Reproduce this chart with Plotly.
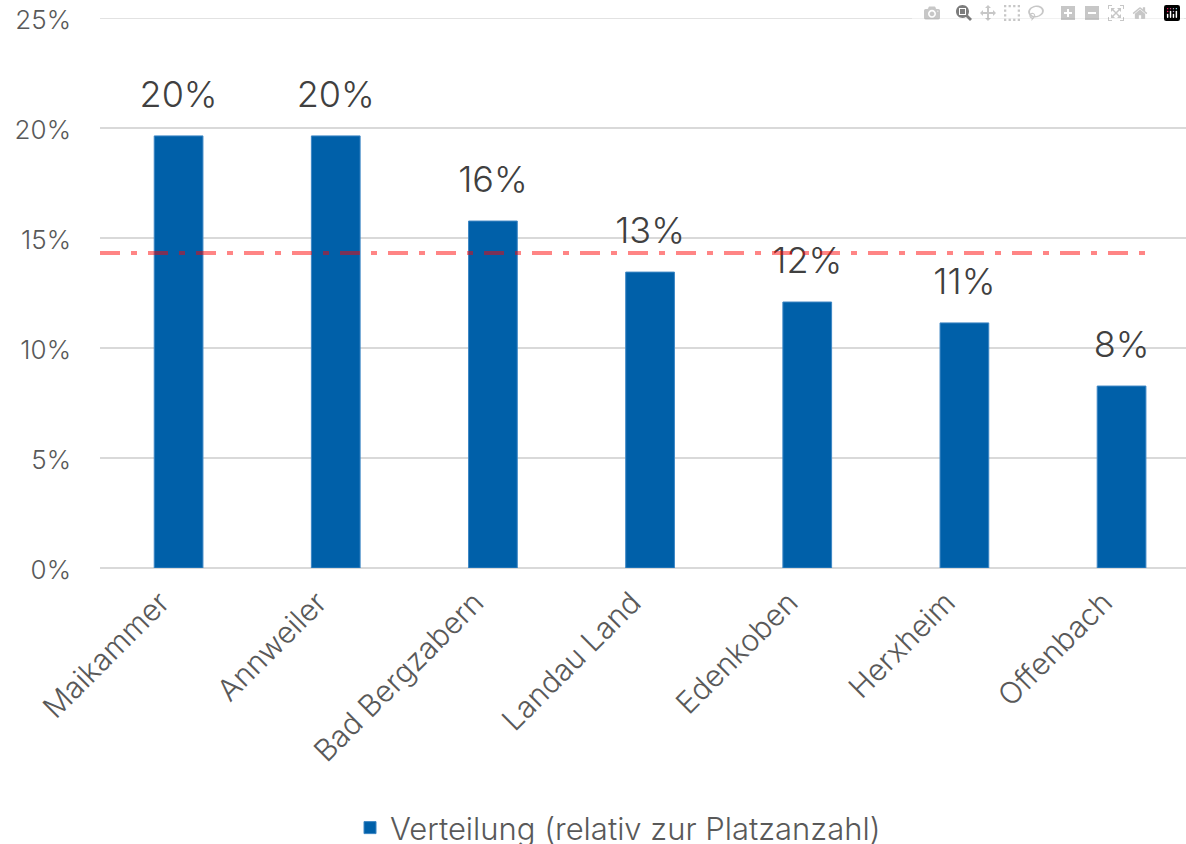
import plotly.graph_objects as go

categories = ["Maikammer", "Annweiler", "Bad Bergzabern", "Landau Land", "Edenkoben", "Herxheim", "Offenbach"]
values = [19.64, 19.64, 15.77, 13.45, 12.09, 11.14, 8.27]
average = [14.32]
series_name = "Verteilung (relativ zur Platzanzahl)"
y_ticks = [0, 5, 10, 15, 20, 25]
y_tick_labels = ["0%", "5%", "10%", "15%", "20%", "25%"]

FONT = "Inter"
GRID = "#D9D9D9"
fig = go.Figure()
fig.add_trace(go.Bar(
    x=categories, y=values, name=series_name,
    marker=dict(color="#0060A9", line=dict(color="#3C86C4", width=1)),
    width=0.31,
))
fig.add_trace(go.Scatter(
    x=categories, y=values, mode="markers+text",
    marker=dict(size=30, opacity=0), showlegend=False, hoverinfo="skip",
    text=[f"{round(v):.0f}%" for v in values],
    textposition="top center",
    textfont=dict(family=FONT, size=36, color="#404040", weight=300),
    cliponaxis=False,
))
# top gridline at the axis maximum (Plotly omits the gridline on the range edge)
fig.add_shape(type="line", xref="paper", yref="y", x0=0, x1=1, y0=y_ticks[-1], y1=y_ticks[-1],
              line=dict(color=GRID, width=1.5), layer="below")
fig.add_shape(type="line", xref="x", yref="y", x0=-0.5, x1=len(categories) - 1 + 0.155,
              y0=average[0], y1=average[0],
              line=dict(color="rgba(255,0,0,0.48)", width=4, dash="20px,11px,6px,11px"),
              layer="above")
fig.update_layout(
    width=1186, height=844,
    margin=dict(l=100, r=0, t=18, b=276),
    paper_bgcolor="white", plot_bgcolor="white",
    font=dict(family=FONT, color="#595959", weight=300),
    showlegend=True,
    legend=dict(orientation="h", x=0.477, xanchor="center", xref="paper",
                yref="container", y=0.019, yanchor="middle",
                font=dict(size=31, color="#595959", family=FONT, weight=300),
                itemwidth=30),
)
fig.update_xaxes(range=[-0.5, 6.41], tickangle=-45, automargin=False,
                 tickfont=dict(size=30, color="#595959", family=FONT, weight=300),
                 ticklabelshift=-18, ticklabelstandoff=10,
                 showgrid=False, showline=False, ticks="")
fig.update_yaxes(range=[0, 25], tickvals=y_ticks, ticktext=y_tick_labels, automargin=False,
                 ticklabeloverflow="allow", ticklabelshift=2,
                 tickfont=dict(size=26, color="#595959", family=FONT, weight=300),
                 showgrid=True, gridcolor=GRID, gridwidth=1.5, zeroline=True, zerolinecolor=GRID,
                 zerolinewidth=1.5, ticklabelstandoff=28)
fig.write_html("out.html",
               post_script="document.body.style.margin='0'; document.body.style.overflow='hidden';")
